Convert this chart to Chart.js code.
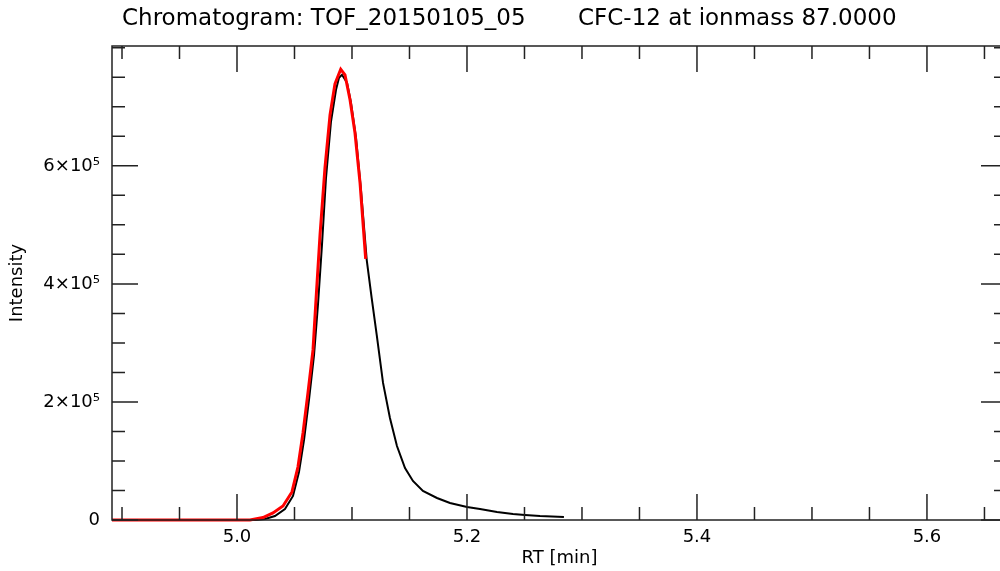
<!DOCTYPE html>
<html>
<head>
<meta charset="utf-8">
<script src="https://cdn.jsdelivr.net/npm/chart.js@4"></script>
<style>
  html, body { margin: 0; padding: 0; overflow: hidden; background: #fff; }
  #wrap { width: 1010px; height: 571px; position: relative; }
</style>
</head>
<body>
<div id="wrap"><canvas id="myChart"></canvas></div>
<script>
// chromatogram trace (black) - RT in min, intensity in counts
const rtTrace = [4.8913, 5.0157, 5.0243, 5.0330, 5.0417, 5.0487, 5.0539, 5.0583, 5.0626, 5.0670,
  5.0704, 5.0739, 5.0774, 5.0817, 5.0861, 5.0887, 5.0913, 5.0957, 5.0991, 5.1035,
  5.1078, 5.1128, 5.1171, 5.1215, 5.1270, 5.1330, 5.1391, 5.1461, 5.1530, 5.1617,
  5.1739, 5.1852, 5.2000, 5.2113, 5.2261, 5.2400, 5.2504, 5.2635, 5.2843];
const intTrace = [0, 0, 1700, 6800, 18600, 40700, 81400, 135600, 203400, 279700,
  364400, 466100, 579700, 674600, 728800, 749200, 754200, 740700, 706800, 647500,
  559300, 440700, 376300, 313600, 232200, 172900, 125400, 88100, 66100, 49200,
  37300, 28800, 22000, 18600, 13600, 10200, 8500, 6800, 5100];

// fitted peak (red)
const rtFit = [4.8913, 5.0113, 5.0226, 5.0313, 5.0400, 5.0478, 5.0530, 5.0574, 5.0617, 5.0661,
  5.0687, 5.0722, 5.0765, 5.0809, 5.0852, 5.0902, 5.0939, 5.0983, 5.1026, 5.1070, 5.1119];
const intFit = [0, 0, 4200, 11900, 23700, 47500, 89800, 147500, 215300, 288100,
  372900, 483000, 596600, 686400, 739000, 763600, 754200, 711900, 655900, 571200, 442400];

const xMin = 4.8913, xMax = 5.6696;
const yMin = 0, yMax = 803000;
// all tick marks, and the ones that carry a label (long ticks)
const xTicks = [4.90, 4.95, 5.00, 5.05, 5.10, 5.15, 5.20, 5.25, 5.30, 5.35, 5.40, 5.45, 5.50, 5.55, 5.60, 5.65];
const xLabelTicks = [5.0, 5.2, 5.4, 5.6];
const yTicks = [0, 50000, 100000, 150000, 200000, 250000, 300000, 350000, 400000,
  450000, 500000, 550000, 600000, 650000, 700000, 750000, 800000];
const yLabelTicks = [0, 200000, 400000, 600000];

const titleLeft = "Chromatogram: TOF_20150105_05";
const titleRight = "CFC-12 at ionmass 87.0000";

const font = "DejaVu Sans";

const toPts = (xs, ys) => xs.map((x, i) => ({ x: x, y: ys[i] }));

const isLabelX = (v) => xLabelTicks.some((t) => Math.abs(t - v) < 1e-6);
const isLabelY = (v) => yLabelTicks.some((t) => Math.abs(t - v) < 1e-3);

// inward ticks on all four sides + frame + the title line
const frameTicks = {
  id: "frameTicks",
  afterDraw(chart) {
    const ctx = chart.ctx;
    const a = chart.chartArea;
    const xs = chart.scales.x;
    const ys = chart.scales.y;
    ctx.save();
    ctx.strokeStyle = "#222";
    ctx.lineWidth = 1.5;
    ctx.strokeRect(a.left, a.top, a.right - a.left, a.bottom - a.top);
    ctx.beginPath();
    xs.ticks.forEach((t) => {
      const px = xs.getPixelForValue(t.value);
      const len = isLabelX(t.value) ? 26 : 13;
      ctx.moveTo(px, a.bottom); ctx.lineTo(px, a.bottom - len);
      ctx.moveTo(px, a.top); ctx.lineTo(px, a.top + len);
    });
    ys.ticks.forEach((t) => {
      const py = ys.getPixelForValue(t.value);
      const len = isLabelY(t.value) ? 26 : 13;
      ctx.moveTo(a.left, py); ctx.lineTo(a.left + len, py);
      ctx.moveTo(a.right, py); ctx.lineTo(a.right - len, py);
    });
    ctx.stroke();

    ctx.fillStyle = "#000";
    ctx.font = "23px '" + font + "'";
    ctx.textBaseline = "middle";
    ctx.textAlign = "left";
    ctx.fillText(titleLeft, 122, 19);
    ctx.fillText(titleRight, 578, 19);
    ctx.restore();
  },
};

new Chart(document.getElementById("myChart"), {
  type: "scatter",
  data: {
    datasets: [
      {
        label: "fit",
        data: toPts(rtFit, intFit),
        showLine: true,
        borderColor: "#ff0000",
        borderWidth: 3,
        pointRadius: 0,
        clip: false,
      },
      {
        label: "trace",
        data: toPts(rtTrace, intTrace),
        showLine: true,
        borderColor: "#000000",
        borderWidth: 2,
        pointRadius: 0,
        clip: false,
      },
    ],
  },
  options: {
    responsive: true,
    maintainAspectRatio: false,
    animation: false,
    layout: { padding: { top: 46, right: 3, left: 0, bottom: 0 } },
    plugins: { legend: { display: false }, tooltip: { enabled: false } },
    scales: {
      x: {
        type: "linear",
        min: xMin,
        max: xMax,
        afterBuildTicks: (s) => { s.ticks = xTicks.map((v) => ({ value: v })); },
        afterFit: (s) => { s.height = 51; },
        grid: { display: false, drawTicks: false },
        border: { display: false },
        ticks: {
          autoSkip: false,
          maxRotation: 0,
          padding: 7,
          color: "#000",
          font: { family: font, size: 18 },
          callback: (v) => (isLabelX(v) ? v.toFixed(1) : ""),
        },
        title: {
          display: true,
          text: "RT [min]",
          color: "#000",
          font: { family: font, size: 18 },
          padding: { top: 0, bottom: 2 },
        },
      },
      y: {
        type: "linear",
        min: yMin,
        max: yMax,
        afterBuildTicks: (s) => { s.ticks = yTicks.map((v) => ({ value: v })); },
        afterFit: (s) => { s.width = 112; },
        grid: { display: false, drawTicks: false },
        border: { display: false },
        ticks: {
          autoSkip: false,
          padding: 12,
          color: "#000",
          font: { family: font, size: 18 },
          callback: (v) => {
            if (!isLabelY(v)) return "";
            if (v === 0) return "0";
            return Math.round(v / 100000) + "×10⁵";
          },
        },
        title: {
          display: true,
          text: "Intensity",
          color: "#000",
          font: { family: font, size: 18 },
          padding: { top: 7, bottom: 0 },
        },
      },
    },
  },
  plugins: [frameTicks],
});
</script>
</body>
</html>
